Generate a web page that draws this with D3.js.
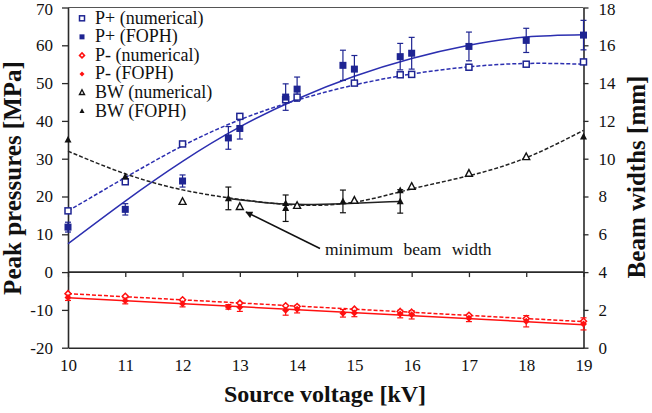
<!DOCTYPE html>
<html><head><meta charset="utf-8">
<script src="https://cdn.jsdelivr.net/npm/d3@7"></script>
<style>
body{margin:0;background:#fff;}
svg{display:block;}
svg text{font-family:"Liberation Serif","DejaVu Serif",serif !important;}
</style></head>
<body><svg id="c" width="652" height="413"></svg>
<script>
// ---- data ----
const xNum = [10, 11, 12, 13, 13.8, 14, 15, 15.8, 16, 17, 18, 19];
const xFoph = [10, 11, 12, 12.8, 13, 13.8, 14, 14.8, 15, 15.8, 16, 17, 18, 19];
const pPlusNum = [16.2, 23.9, 33.9, 41.2, 45.6, 46.3, 50.0, 52.2, 52.3, 54.2, 55.0, 55.6];
const pPlusFoph = [11.9, 16.6, 24.1, 35.5, 38.0, 46.3, 48.4, 54.7, 53.7, 57.0, 57.9, 59.7, 61.3, 62.7];
const pPlusErr = [1.3, 1.5, 1.6, 3.0, 2.8, 3.5, 3.2, 4.0, 3.6, 3.5, 4.2, 3.8, 3.2, 3.9];
const pMinusNum = [-5.7, -6.4, -7.3, -8.2, -8.9, -9.1, -9.8, -10.4, -10.6, -11.4, -12.3, -13.0];
const pMinusFoph = [-6.7, -7.6, -8.4, -9.2, -9.3, -10.1, -9.8, -10.9, -10.8, -11.1, -11.3, -12.2, -13.0, -13.7];
const pMinusErr = [0.8, 0.8, 0.8, 0.6, 1.1, 1.3, 1.0, 1.0, 1.0, 1.0, 1.1, 0.9, 1.5, 1.6];
const bwNumX = [12, 13, 14, 15, 16, 17, 18];
const bwNum = [7.73, 7.46, 7.52, 7.79, 8.53, 9.22, 10.1];
const bwFophX = [10, 11, 12.8, 13.8, 13.8, 14.8, 15.8, 15.8, 19];
const bwFoph = [11.0, 9.05, 7.9, 7.64, 7.38, 7.74, 8.32, 7.74, 11.17];
const bwErr = [0, 0, 0.6, 0, 0.7, 0.6, 0, 0.62, 0];
// trend lines
const fitX = [10, 11, 12, 13, 14, 15, 16, 17, 18, 19];
const pPlusFophFit = [7.5, 18.8, 29.3, 38.4, 45.8, 51.8, 56.5, 60.0, 62.2, 62.8];
const pPlusNumFit = [16.2, 25.0, 33.4, 40.3, 45.5, 49.5, 52.4, 54.3, 55.2, 55.0];
const bwNumFit = [10.4, 9.2, 8.35, 7.85, 7.55, 7.7, 8.4, 9.1, 10.05, 11.5];
const bwFophFitX = [12.8, 13.8, 14.8, 15.8];
const bwFophFit = [7.9, 7.6, 7.62, 7.74];
const pMinusFitX = [10, 19];
const pMinusFophFit = [-6.8, -13.9];
const pMinusNumFit = [-5.7, -13.1];
const xTicks = [10, 11, 12, 13, 14, 15, 16, 17, 18, 19];
const leftTicks = [-20, -10, 0, 10, 20, 30, 40, 50, 60, 70];
const rightTicks = [0, 2, 4, 6, 8, 10, 12, 14, 16, 18];
const legendLabels = ["P+ (numerical)", "P+ (FOPH)", "P- (numerical)", "P- (FOPH)", "BW (numerical)", "BW (FOPH)"];

const FONT = "'Liberation Serif', 'DejaVu Serif', serif";

// ---- layout ----
const svg = d3.select("#c");
const X0 = 68, X1 = 583.5, Y0 = 347.7, Y1 = 7.5;
const x = d3.scaleLinear().domain([10, 19]).range([X0, X1]);
const yL = d3.scaleLinear().domain([-20, 70]).range([Y0, Y1]);
const yR = d3.scaleLinear().domain([0, 18]).range([Y0, Y1]);

const BLUE = "#1e2492", BLUEL = "#2c2fb0", RED = "#ff1010", AX = "#2a2a2a";

svg.append("line").attr("x1", X0).attr("x2", X1).attr("y1", Y1).attr("y2", Y1).attr("stroke", "#555").attr("stroke-width", 1);

// axes
const fontTick = 17;
const gL = svg.append("g").attr("transform", `translate(${X0},0)`)
  .call(d3.axisLeft(yL).tickValues(leftTicks).tickSize(6).tickPadding(9).tickSizeOuter(0));
const gR = svg.append("g").attr("transform", `translate(${X1},0)`)
  .call(d3.axisRight(yR).tickValues(rightTicks).tickSize(5).tickPadding(10).tickSizeOuter(0));
const gZ = svg.append("g").attr("transform", `translate(0,${yL(0)})`)
  .call(d3.axisBottom(x).tickValues(xTicks).tickSize(5).tickFormat("").tickSizeOuter(0));
const gB = svg.append("g").attr("transform", `translate(0,${Y0})`)
  .call(d3.axisBottom(x).tickValues(xTicks).tickSize(0).tickPadding(11).tickSizeOuter(0));
[gL, gR, gZ, gB].forEach(g => {
  g.attr("font-family", FONT);
  g.select(".domain").attr("stroke", AX).attr("stroke-width", 1.6);
  g.selectAll(".tick line").attr("stroke", AX).attr("stroke-width", 1.3);
  g.selectAll(".tick text").attr("font-size", fontTick).attr("fill", "#111");
});
gL.selectAll(".tick text").text(d => d < 0 ? "-" + Math.abs(d) : d);
gL.selectAll(".tick text").filter(d => d === 70).attr("dy", "0.4em");
gR.selectAll(".tick text").filter(d => d === 18).attr("dy", "0.4em");
gZ.select(".domain").attr("d", `M${X0},0H${X1}`);

// titles
const T = (sel) => sel.attr("font-family", FONT).attr("fill", "#111");
T(svg.append("text")).attr("transform", `translate(20.5,178) rotate(-90)`).attr("text-anchor", "middle")
  .attr("font-weight", "bold").attr("font-size", 25).text("Peak pressures [MPa]");
T(svg.append("text")).attr("transform", `translate(645,177) rotate(-90)`).attr("text-anchor", "middle")
  .attr("font-weight", "bold").attr("font-size", 25).text("Beam widths [mm]");
T(svg.append("text")).attr("x", 325).attr("y", 402).attr("text-anchor", "middle")
  .attr("font-weight", "bold").attr("font-size", 24).text("Source voltage [kV]");

// helpers
const line = (sy) => d3.line().x(d => x(d[0])).y(d => sy(d[1]));
function drawLine(xs, ys, sy, color, dashed, curve) {
  const pts = xs.map((v, i) => [v, ys[i]]);
  svg.append("path").attr("d", line(sy).curve(curve || d3.curveLinear)(pts))
    .attr("fill", "none").attr("stroke", color).attr("stroke-width", 1.5)
    .attr("stroke-dasharray", dashed ? "4,2" : null);
}
function drawErr(xs, ys, es, sy, color) {
  const g = svg.append("g").attr("stroke", color).attr("stroke-width", 1.2);
  xs.forEach((v, i) => {
    if (!es[i]) return;
    const cx = x(v), t = sy(ys[i] + es[i]), b = sy(ys[i] - es[i]);
    g.append("line").attr("x1", cx).attr("x2", cx).attr("y1", t).attr("y2", b);
    g.append("line").attr("x1", cx - 3).attr("x2", cx + 3).attr("y1", t).attr("y2", t);
    g.append("line").attr("x1", cx - 3).attr("x2", cx + 3).attr("y1", b).attr("y2", b);
  });
}
function marker(g, type, cx, cy, s) {
  if (type === "sqOpen") g.append("rect").attr("x", cx - s/2).attr("y", cy - s/2).attr("width", s).attr("height", s)
      .attr("fill", "#fff").attr("stroke", BLUE).attr("stroke-width", 1.5);
  else if (type === "sq") g.append("rect").attr("x", cx - s/2).attr("y", cy - s/2).attr("width", s).attr("height", s).attr("fill", BLUE);
  else if (type === "diaOpen") g.append("path").attr("d", `M${cx},${cy - s/2}L${cx + s/2},${cy}L${cx},${cy + s/2}L${cx - s/2},${cy}Z`)
      .attr("fill", "#fff").attr("stroke", RED).attr("stroke-width", 1.5);
  else if (type === "dia") g.append("path").attr("d", `M${cx},${cy - s/2}L${cx + s/2},${cy}L${cx},${cy + s/2}L${cx - s/2},${cy}Z`).attr("fill", RED);
  else if (type === "triOpen") g.append("path").attr("d", `M${cx},${cy - s*0.55}L${cx + s/2},${cy + s*0.4}L${cx - s/2},${cy + s*0.4}Z`)
      .attr("fill", "#fff").attr("stroke", "#111").attr("stroke-width", 1.4);
  else if (type === "tri") g.append("path").attr("d", `M${cx},${cy - s*0.55}L${cx + s/2},${cy + s*0.4}L${cx - s/2},${cy + s*0.4}Z`).attr("fill", "#111");
}
function drawPts(xs, ys, sy, type, s) {
  const g = svg.append("g");
  xs.forEach((v, i) => marker(g, type, x(v), sy(ys[i]), s));
}

// P+
drawLine(fitX, pPlusNumFit, yL, BLUEL, true, d3.curveNatural);
drawLine(fitX, pPlusFophFit, yL, BLUEL, false, d3.curveNatural);
drawErr(xFoph, pPlusFoph, pPlusErr, yL, BLUE);
drawPts(xNum, pPlusNum, yL, "sqOpen", 6);
drawPts(xFoph, pPlusFoph, yL, "sq", 7);
// BW
drawLine(fitX, bwNumFit, yR, "#222", true, d3.curveNatural);
drawLine(bwFophFitX, bwFophFit, yR, "#222", false, d3.curveNatural);
drawErr(bwFophX, bwFoph, bwErr, yR, "#111");
drawPts(bwNumX, bwNum, yR, "triOpen", 7);
drawPts(bwFophX, bwFoph, yR, "tri", 7);
// P-
drawLine(pMinusFitX, pMinusNumFit, yL, RED, true);
drawLine(pMinusFitX, pMinusFophFit, yL, RED, false);
drawErr(xFoph, pMinusFoph, pMinusErr, yL, RED);
drawPts(xNum, pMinusNum, yL, "diaOpen", 6);
drawPts(xFoph, pMinusFoph, yL, "dia", 7);

// annotation
svg.append("defs").append("marker").attr("id", "ah").attr("viewBox", "0 0 10 10").attr("refX", 9).attr("refY", 5)
  .attr("markerWidth", 9).attr("markerHeight", 7).attr("markerUnits", "userSpaceOnUse").attr("orient", "auto")
  .append("path").attr("d", "M0,0L10,5L0,10Z").attr("fill", "#111");
svg.append("line").attr("x1", 320).attr("y1", 248.5).attr("x2", 246).attr("y2", 212)
  .attr("stroke", "#111").attr("stroke-width", 1.6).attr("marker-end", "url(#ah)");
T(svg.append("text")).attr("x", 325).attr("y", 254.5).attr("font-size", 17.5).attr("word-spacing", 6).text("minimum beam width");

// legend
const types = ["sqOpen", "sq", "diaOpen", "dia", "triOpen", "tri"];
const lg = svg.append("g");
legendLabels.forEach((t, i) => {
  const cy = 18.3 + i * 18.55;
  marker(lg, types[i], 82, cy, 5);
  T(lg.append("text")).attr("x", 95).attr("y", cy + 5.5).attr("font-size", 18).text(t);
});
</script></body></html>
